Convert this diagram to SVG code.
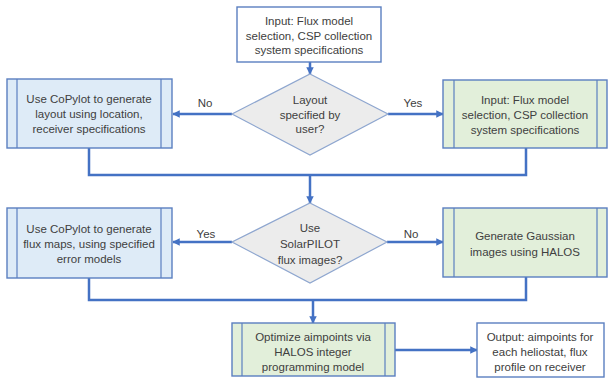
<svg xmlns="http://www.w3.org/2000/svg" width="614" height="378" viewBox="0 0 614 378">
<defs>
<style>
.box{stroke:#5b7fc0;stroke-width:1.4}
.blue{fill:#deebf7}
.green{fill:#e2efda}
.white{fill:#ffffff}
.dia{fill:#ececec;stroke:#8ea6cf;stroke-width:1.2}
.sep{stroke:#5b7fc0;stroke-width:1.2;fill:none}
.con{stroke:#4472c4;stroke-width:2.5;fill:none}
.arr{stroke:#4472c4;stroke-width:2.5;fill:none;marker-end:url(#ah)}
text{font-family:"Liberation Sans",Arial,sans-serif;font-size:11.5px;fill:#404040;text-anchor:middle}
</style>
<marker id="ah" viewBox="0 0 10 10" refX="9" refY="5" markerWidth="3" markerHeight="3" orient="auto" markerUnits="strokeWidth">
<path d="M0,0 L10,5 L0,10 z" fill="#4472c4"/>
</marker>
</defs>
<rect width="614" height="378" fill="#ffffff"/>
<g id="connectors">
<line class="arr" x1="310" y1="62" x2="310" y2="74"/>
<line class="arr" x1="232" y1="114" x2="173" y2="114"/>
<line class="arr" x1="388" y1="114" x2="443" y2="114"/>
<polyline class="con" points="89,148 89,175 526,175 526,148"/>
<line class="arr" x1="310" y1="175" x2="310" y2="203"/>
<line class="arr" x1="232" y1="242" x2="173" y2="242"/>
<line class="arr" x1="387" y1="242" x2="443" y2="242"/>
<polyline class="con" points="89,278 89,300 526,300 526,277"/>
<line class="arr" x1="313" y1="300" x2="313" y2="323"/>
<line class="arr" x1="395" y1="350" x2="477" y2="350"/>
<text x="205" y="107">No</text>
<text x="413" y="107">Yes</text>
<text x="206" y="238">Yes</text>
<text x="411" y="238">No</text>
</g>
<g id="input-top">
<rect class="box white" x="237" y="7" width="144" height="55"/>
<text x="309" y="25">Input: Flux model</text>
<text x="309" y="39.5">selection, CSP collection</text>
<text x="309" y="54">system specifications</text>
</g>
<g id="decision-layout">
<polygon class="dia" points="310,74 388,114 310,155 232,114"/>
<text x="310" y="104">Layout</text>
<text x="310" y="119">specified by</text>
<text x="310" y="133">user?</text>
</g>
<g id="copylot-layout">
<rect class="box blue" x="7" y="79" width="165" height="69"/>
<line class="sep" x1="17" y1="79" x2="17" y2="148"/>
<line class="sep" x1="161" y1="79" x2="161" y2="148"/>
<text x="89" y="103">Use CoPylot to generate</text>
<text x="89" y="118">layout using location,</text>
<text x="89" y="133">receiver specifications</text>
</g>
<g id="input-right">
<rect class="box green" x="443" y="80" width="164" height="68"/>
<line class="sep" x1="454" y1="80" x2="454" y2="148"/>
<line class="sep" x1="597" y1="80" x2="597" y2="148"/>
<text x="525" y="104">Input: Flux model</text>
<text x="525" y="119">selection, CSP collection</text>
<text x="525" y="134">system specifications</text>
</g>
<g id="decision-solarpilot">
<polygon class="dia" points="310,203 387,242 310,283 232,242"/>
<text x="310" y="232">Use</text>
<text x="310" y="248">SolarPILOT</text>
<text x="310" y="264">flux images?</text>
</g>
<g id="copylot-flux">
<rect class="box blue" x="7" y="208" width="165" height="70"/>
<line class="sep" x1="17" y1="208" x2="17" y2="278"/>
<line class="sep" x1="161" y1="208" x2="161" y2="278"/>
<text x="89" y="233">Use CoPylot to generate</text>
<text x="89" y="248">flux maps, using specified</text>
<text x="89" y="263">error models</text>
</g>
<g id="gaussian">
<rect class="box green" x="443" y="208" width="164" height="69"/>
<line class="sep" x1="454" y1="208" x2="454" y2="277"/>
<line class="sep" x1="597" y1="208" x2="597" y2="277"/>
<text x="525" y="239.5">Generate Gaussian</text>
<text x="525" y="255.5">images using HALOS</text>
</g>
<g id="optimize">
<rect class="box green" x="232" y="323" width="163" height="53"/>
<line class="sep" x1="242" y1="323" x2="242" y2="376"/>
<line class="sep" x1="385" y1="323" x2="385" y2="376"/>
<text x="313" y="341">Optimize aimpoints via</text>
<text x="313" y="356">HALOS integer</text>
<text x="313" y="371">programming model</text>
</g>
<g id="output">
<rect class="box white" x="477" y="323" width="127" height="54"/>
<text x="540" y="341">Output: aimpoints for</text>
<text x="540" y="356">each heliostat, flux</text>
<text x="540" y="371">profile on receiver</text>
</g>
</svg>
